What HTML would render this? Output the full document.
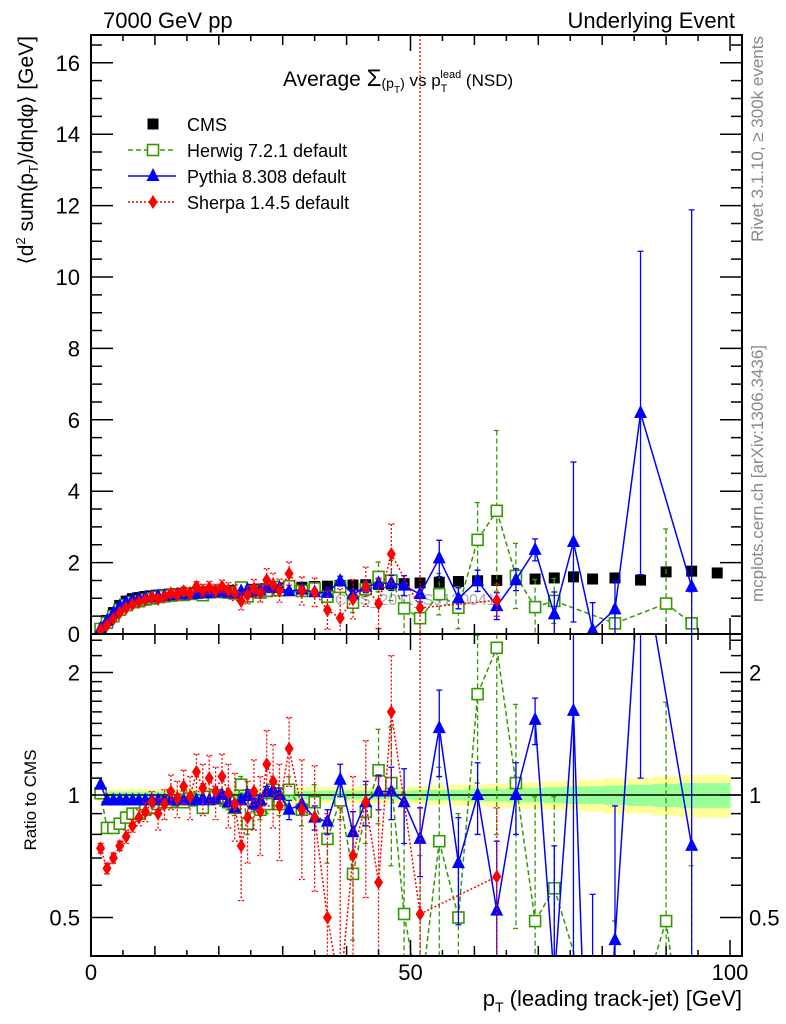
<!DOCTYPE html>
<html><head><meta charset="utf-8"><style>
html,body{margin:0;padding:0;background:#fff;width:786px;height:1024px;overflow:hidden;}
svg{display:block;font-family:"Liberation Sans",sans-serif;}
</style></head><body>
<svg id="chart" width="786" height="1024" viewBox="0 0 786 1024" xmlns="http://www.w3.org/2000/svg">
<defs>
<clipPath id="cm"><rect x="91" y="35" width="651" height="599"/></clipPath>
<clipPath id="cr"><rect x="91" y="634" width="651" height="322"/></clipPath>
</defs>
<text x="103" y="28" font-size="22">7000 GeV pp</text>
<text x="735" y="28" font-size="22" text-anchor="end">Underlying Event</text>
<text x="283" y="86" font-size="21">Average <tspan font-size="24">Σ</tspan><tspan font-size="14" dy="2">(p</tspan><tspan font-size="10" dy="5">T</tspan><tspan font-size="14" dy="-5">)</tspan><tspan dy="-2" font-size="17"> vs p</tspan><tspan font-size="11" dy="6">T</tspan><tspan font-size="11" dy="-14" dx="-7">lead</tspan><tspan font-size="17" dy="8"> (NSD)</tspan></text>
<text transform="translate(33,36) rotate(-90)" text-anchor="end" font-size="21">⟨d<tspan font-size="13" dy="-8">2</tspan><tspan dy="8"> sum(p</tspan><tspan font-size="13" dy="5">T</tspan><tspan dy="-5">)/dηdφ⟩ [GeV]</tspan></text>
<text transform="translate(36,800) rotate(-90)" text-anchor="middle" font-size="17">Ratio to CMS</text>
<text transform="translate(763,36) rotate(-90)" text-anchor="end" font-size="17" fill="#888">Rivet 3.1.10, ≥ 300k events</text>
<text transform="translate(763,345) rotate(-90)" text-anchor="end" font-size="17" fill="#888">mcplots.cern.ch [arXiv:1306.3436]</text>
<text x="742" y="1006" font-size="22" text-anchor="end">p<tspan font-size="14" dy="6">T</tspan><tspan dy="-6"> (leading track-jet) [GeV]</tspan></text>
<text x="335" y="605" font-size="16" fill="#aaa">CMS_2011_S9120041</text>
<g id="main" clip-path="url(#cm)"></g>
<g id="ratio" clip-path="url(#cr)"></g>
<g id="axes"></g>
<g id="legend"></g>
</svg>
<script>
const xs=[1.5,2.5,3.5,4.5,5.5,6.5,7.5,8.5,9.5,10.5,11.5,12.5,13.5,14.5,15.5,16.5,17.5,18.5,19.5,20.5,21.5,22.5,23.5,24.5,25.5,26.5,27.5,28.5,29.5,31,33,35,37,39,41,43,45,47,49,51.5,54.5,57.5,60.5,63.5,66.5,69.5,72.5,75.5,78.5,82,86,90,94,98];
const cmsVals=[0.14,0.38,0.6,0.8,0.92,0.99,1.02,1.05,1.07,1.09,1.1,1.12,1.13,1.14,1.15,1.16,1.17,1.18,1.19,1.2,1.21,1.22,1.23,1.24,1.25,1.26,1.27,1.28,1.29,1.3,1.31,1.33,1.34,1.36,1.37,1.38,1.39,1.4,1.41,1.43,1.45,1.47,1.49,1.5,1.52,1.54,1.57,1.6,1.54,1.57,1.51,1.74,1.76,1.71];
const bandInner=[0.02,0.02,0.02,0.02,0.02,0.02,0.02,0.02,0.02,0.02,0.02,0.02,0.02,0.02,0.02,0.02,0.02,0.02,0.02,0.02,0.02,0.02,0.02,0.02,0.02,0.02,0.02,0.02,0.02,0.025,0.025,0.025,0.025,0.025,0.025,0.025,0.025,0.025,0.025,0.03,0.03,0.03,0.035,0.035,0.04,0.04,0.045,0.05,0.05,0.055,0.06,0.065,0.07,0.07];
const bandOuter=[0.035,0.035,0.035,0.035,0.035,0.035,0.035,0.035,0.035,0.035,0.035,0.035,0.035,0.035,0.035,0.035,0.035,0.035,0.035,0.035,0.035,0.035,0.035,0.035,0.035,0.035,0.035,0.035,0.035,0.045,0.045,0.045,0.045,0.045,0.045,0.045,0.045,0.045,0.05,0.05,0.055,0.06,0.06,0.065,0.07,0.075,0.08,0.085,0.09,0.1,0.1,0.11,0.12,0.12];
const herwigRatio=[1.01,0.83,0.83,0.85,0.88,0.9,0.9,0.92,0.93,0.95,0.96,0.96,0.97,0.96,0.98,0.97,0.93,0.99,1.0,0.98,0.96,0.93,1.06,0.85,0.96,0.92,0.95,1.03,0.95,1.03,0.92,0.96,0.78,0.97,0.64,0.91,1.15,1.07,0.51,0.31,0.77,0.5,1.77,2.3,1.07,0.49,0.59,null,null,0.19,null,0.49,0.17,null];
const herwigErr=[0.02,0.02,0.02,0.02,0.02,0.02,0.02,0.02,0.02,0.02,0.02,0.02,0.02,0.02,0.02,0.02,0.03,0.03,0.03,0.04,0.04,0.04,0.05,0.05,0.05,0.05,0.05,0.06,0.06,0.08,0.08,0.1,0.1,0.1,0.2,0.15,0.3,0.4,0.5,0.4,0.4,0.4,0.7,1.5,0.6,0.5,0.4,0,0,0.3,0,1.2,0.5,0];
const pythiaRatio=[1.06,0.97,0.97,0.97,0.97,0.97,0.97,0.97,0.97,0.97,0.97,0.97,0.98,0.97,0.98,0.97,0.98,0.97,0.98,1.0,0.96,0.93,0.97,1.0,0.95,0.97,1.02,1.03,1.0,0.92,0.95,0.88,0.86,1.09,0.81,0.96,1.02,1.02,0.96,0.78,1.46,0.68,1.0,0.52,1.0,1.53,0.35,1.61,0.07,0.44,4.1,null,0.75,null];
const pythiaErr=[0.01,0.01,0.01,0.01,0.01,0.01,0.01,0.01,0.01,0.01,0.01,0.01,0.01,0.01,0.01,0.01,0.01,0.01,0.01,0.02,0.02,0.02,0.02,0.03,0.03,0.03,0.03,0.04,0.04,0.05,0.05,0.06,0.06,0.1,0.1,0.12,0.1,0.15,0.2,0.15,0.35,0.2,0.2,0.25,0.2,0.2,0.4,1.4,0.5,0.5,3.0,0,6.0,0];
const sherpaRatio=[0.74,0.66,0.70,0.75,0.79,0.84,0.88,0.91,0.96,0.9,0.95,1.02,0.98,1.05,0.99,1.14,1.04,1.1,1.02,1.11,1.01,0.95,0.75,0.88,1.02,0.91,1.19,1.08,0.94,1.3,0.92,0.88,0.5,0.33,0.71,0.96,0.61,1.6,null,0.51,null,null,null,0.63,null,null,null,null,null,null,null,null,null,null];
const sherpaErr=[0.02,0.02,0.02,0.02,0.03,0.03,0.04,0.05,0.06,0.08,0.08,0.1,0.1,0.1,0.12,0.12,0.15,0.15,0.15,0.15,0.18,0.18,0.2,0.2,0.2,0.2,0.25,0.25,0.25,0.25,0.3,0.3,0.4,0.6,0.4,0.4,0.5,0.6,0,12,0,0,0,0.3,0,0,0,0,0,0,0,0,0,0];
const mainYTicks=[0,2,4,6,8,10,12,14,16];
const ratioYTicks=[0.5,1,2];
const xTickLabels=[0,50,100];

const NS="http://www.w3.org/2000/svg";
const X=v=>91+v*6.39;
const YM=v=>634-v*35.7;
const YR=r=>795-Math.log2(r)*122.5;
const clampY=(y,lo,hi)=>Math.min(Math.max(y,lo),hi);
function mk(tag,attrs,parent){const e=document.createElementNS(NS,tag);for(const k in attrs)e.setAttribute(k,attrs[k]);parent.appendChild(e);return e;}
const gMain=document.getElementById('main'),gRatio=document.getElementById('ratio'),gAx=document.getElementById('axes'),gLeg=document.getElementById('legend');

// clip a segment vertically to [lo,hi]
function clipSeg(x1,y1,x2,y2,lo,hi){
  if((y1<lo&&y2<lo)||(y1>hi&&y2>hi))return null;
  const f=(y)=>x1+(x2-x1)*(y-y1)/(y2-y1);
  let a=[x1,y1],b=[x2,y2];
  if(y1<lo){a=[f(lo),lo];}else if(y1>hi){a=[f(hi),hi];}
  if(y2<lo){b=[f(lo),lo];}else if(y2>hi){b=[f(hi),hi];}
  return `M${a[0]},${a[1]}L${b[0]},${b[1]}`;
}

const edges=[1];
for(let i=0;i<xs.length-1;i++)edges.push((xs[i]+xs[i+1])/2);
edges.push(100);

for(let i=0;i<xs.length;i++){
  let el=mk('rect',{x:X(edges[i]),y:YR(1+bandOuter[i]),width:X(edges[i+1])-X(edges[i])+0.5,height:YR(1-bandOuter[i])-YR(1+bandOuter[i]),fill:'#ffff99'},gRatio);
  
  
}
for(let i=0;i<xs.length;i++){
  let el=mk('rect',{x:X(edges[i]),y:YR(1+bandInner[i]),width:X(edges[i+1])-X(edges[i])+0.5,height:YR(1-bandInner[i])-YR(1+bandInner[i]),fill:'#99ff99'},gRatio);
  
  
}
let ref=mk('line',{x1:91,x2:742,y1:YR(1),y2:YR(1),stroke:'#000','stroke-width':1.5},gRatio);



for(let i=0;i<xs.length;i++){
  let el=mk('rect',{x:X(xs[i])-5.5,y:YM(cmsVals[i])-5.5,width:11,height:11,fill:'#000'},gMain);
  
  
}

function marker(g,kind,cx,cy,color,name){
  let el;
  if(kind==='sq') el=mk('rect',{x:cx-5.5,y:cy-5.5,width:11,height:11,fill:'#fff',stroke:color,'stroke-width':1.6},g);
  else if(kind==='tri') el=mk('polygon',{points:`${cx},${cy-8} ${cx-6.5},${cy+5} ${cx+6.5},${cy+5}`,fill:color},g);
  else el=mk('polygon',{points:`${cx},${cy-7} ${cx-4.5},${cy} ${cx},${cy+7} ${cx+4.5},${cy}`,fill:color},g);
  
  
}
function series(ratio,err,color,dash,kind,name){
  for(const mode of ['main','ratio']){
    const g=mode==='main'?gMain:gRatio;
    const lo=mode==='main'?35:634, hi=mode==='main'?634:956;
    const yv=(i,r)=>mode==='main'?YM(r*cmsVals[i]):YR(Math.max(r,0.01));
    let d='',prev=null;
    for(let i=0;i<xs.length;i++){
      if(ratio[i]===null)continue;
      const p=[X(xs[i]),yv(i,ratio[i])];
      if(prev){const s=clipSeg(prev[0],prev[1],p[0],p[1],lo-1,hi+1);if(s)d+=s;}
      prev=p;
    }
    let ln=mk('path',{d:d,fill:'none',stroke:color,'stroke-width':1.5,'stroke-dasharray':dash},g);
    
    
    for(let i=0;i<xs.length;i++){
      if(ratio[i]===null)continue;
      const r=ratio[i],e=err[i];
      if(e>0){
        let y1=mode==='main'?YM((r+e)*cmsVals[i]):YR(r+e);
        let y2=mode==='main'?YM(Math.max(r-e,0)*cmsVals[i]):YR(Math.max(r-e,0.005));
        y1=clampY(y1,lo,hi);y2=clampY(y2,lo,hi);
        if(y1===y2)continue;
        const cx=X(xs[i]);
        let eb=mk('path',{d:`M${cx},${y1}V${y2}M${cx-3},${y1}H${cx+3}M${cx-3},${y2}H${cx+3}`,stroke:color,'stroke-width':1.3,fill:'none','stroke-dasharray':dash},g);
        
        
      }
    }
    for(let i=0;i<xs.length;i++){
      if(ratio[i]===null)continue;
      const y=yv(i,ratio[i]);
      if(y<lo-10||y>hi+10)continue;
      marker(g,kind,X(xs[i]),y,color,name+'-'+mode+'-point');
    }
  }
}
series(herwigRatio,herwigErr,'#339900','5,3','sq','herwig');
series(pythiaRatio,pythiaErr,'#0000ff','none','tri','pythia');
series(sherpaRatio,sherpaErr,'#ff0000','2,2','dia','sherpa');

for(const [y1,y2,nm] of [[35,634,'main-frame'],[634,956,'ratio-frame']]){
  let f=mk('rect',{x:91,y:y1,width:651,height:y2-y1,fill:'none',stroke:'#000','stroke-width':2},gAx);
  
  
}
for(let v=5;v<=100;v+=5){
  const len=v%50===0?16:(v%10===0?10:6);
  for(const [yb,yt] of [[634,35],[956,634]]){
    let t=mk('path',{d:`M${X(v)},${yb}v${-len}M${X(v)},${yt}v${len}`,stroke:'#000','stroke-width':1.5},gAx);
    
    
  }
}
for(const v of xTickLabels){
  let t=mk('text',{x:X(v),y:980,'font-size':22,'text-anchor':'middle'},gAx);
  t.textContent=v;
  
  
}
for(let v=0.5;v<=16.5;v+=0.5){
  const len=(v%2===0)?22:11;
  let t=mk('path',{d:`M91,${YM(v)}h${len}M742,${YM(v)}h${-len}`,stroke:'#000','stroke-width':1.5},gAx);
  
  
}
for(const v of mainYTicks){
  let t=mk('text',{x:80,y:YM(v)+8,'font-size':22,'text-anchor':'end'},gAx);
  t.textContent=v;
  
  
}
const rMinor=[0.6,0.7,0.8,0.9,1.1,1.2,1.3,1.4,1.5,1.6,1.7,1.8,1.9,2.2,2.4];
for(const v of rMinor.concat(ratioYTicks)){
  const len=ratioYTicks.includes(v)?22:11;
  let t=mk('path',{d:`M91,${YR(v)}h${len}M742,${YR(v)}h${-len}`,stroke:'#000','stroke-width':1.5},gAx);
  
  
}
for(const v of ratioYTicks){
  let t=mk('text',{x:80,y:YR(v)+8,'font-size':22,'text-anchor':'end'},gAx);
  t.textContent=v;
  
  
  let t2=mk('text',{x:749,y:YR(v)+8,'font-size':22},gAx);
  t2.textContent=v;
  
  
}
const legNames=['CMS','Herwig 7.2.1 default','Pythia 8.308 default','Sherpa 1.4.5 default'];
const legColors=['#000','#339900','#0000ff','#ff0000'];
const legDash=['none','5,3','none','2,2'];
const legKinds=['cms','sq','tri','dia'];
for(let i=0;i<4;i++){
  const y=124+i*26;
  if(i>0){
    let l=mk('line',{x1:128,x2:176,y1:y,y2:y,stroke:legColors[i],'stroke-width':1.5,'stroke-dasharray':legDash[i]},gLeg);
    
    
    marker(gLeg,legKinds[i],153,y,legColors[i],'legend-marker');
  } else {
    let m=mk('rect',{x:147.5,y:y-5.5,width:11,height:11,fill:'#000'},gLeg);
    
    
  }
  let t=mk('text',{x:187,y:y+7,'font-size':18},gLeg);
  t.textContent=legNames[i];
  
  
}
</script>
</body></html>
